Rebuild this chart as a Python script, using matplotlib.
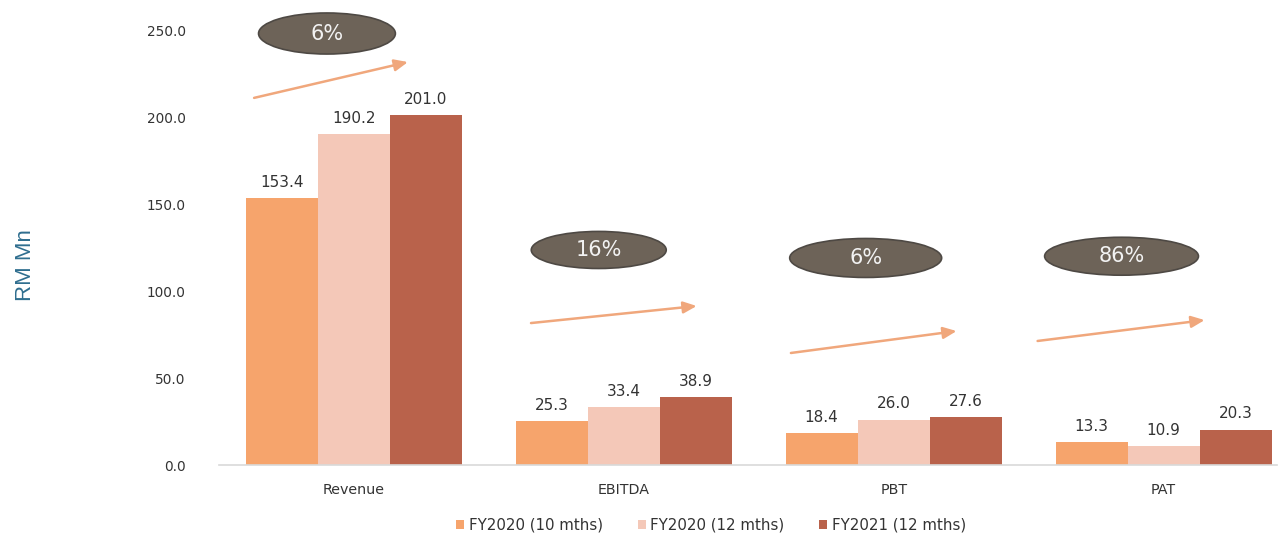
import matplotlib
matplotlib.use("Agg")
import matplotlib.pyplot as plt
from matplotlib.patches import Ellipse, Patch
import numpy as np

# figures in RM million
categories = ["Revenue", "EBITDA", "PBT", "PAT"]
series_names = ["FY2020 (10 mths)", "FY2020 (12 mths)", "FY2021 (12 mths)"]
fy2020_10m = [153.4, 25.3, 18.4, 13.3]
fy2020_12m = [190.2, 33.4, 26.0, 10.9]
fy2021_12m = [201.0, 38.9, 27.6, 20.3]
yticks = [0, 50, 100, 150, 200, 250]

colors = ["#F6A46C", "#F4C8B8", "#B9624B"]
text_col = "#333333"

fig = plt.figure(figsize=(12.86, 5.42), dpi=100)
ax = fig.add_axes([0.1703, 0.142, 0.8227, 0.8026])

x = np.arange(len(categories))
w = 0.267
for i, (vals, c) in enumerate(zip([fy2020_10m, fy2020_12m, fy2021_12m], colors)):
    pos = x + (i - 1) * w
    ax.bar(pos, vals, width=w, color=c, edgecolor="none", zorder=2)
    for p, v in zip(pos, vals):
        ax.annotate(f"{v:.1f}", (p, v), xytext=(0, 6), textcoords="offset points",
                    ha="center", va="bottom", fontsize=11, color=text_col)

ax.set_xlim(-0.5, 3.42)
ax.set_ylim(0, 250)
ax.set_yticks(yticks)
ax.set_yticklabels([f"{t:.1f}" for t in yticks], fontsize=9.8, color=text_col)
ax.set_xticks(x)
ax.set_xticklabels(categories, fontsize=10.3, color=text_col)
ax.tick_params(axis="y", length=0, pad=24)
ax.tick_params(axis="x", length=0, pad=13)
for s in ["top", "right", "left"]:
    ax.spines[s].set_visible(False)
ax.spines["bottom"].set_color("#D9D9D9")
ax.spines["bottom"].set_linewidth(1.2)

fig.text(0.02, 0.511, "RM Mn", rotation=90, ha="center", va="center",
         fontsize=16, color="#2F6E8F", family="Liberation Sans")

# year-on-year growth, FY2021 vs FY2020 (12 mths)
growth = [f"{(b / a - 1) * 100:.0f}%" for a, b in zip(fy2020_12m, fy2021_12m)]
bubble_xy = [(-0.10, 248), (0.907, 123.6), (1.896, 119), (2.844, 120)]
bubble_wh = [(0.507, 23.6), (0.50, 21.3), (0.563, 22.4), (0.57, 21.8)]
arrows = [((-0.37, 211), (0.20, 231.6)),
          ((0.656, 81.6), (1.27, 91.4)),
          ((1.619, 64.4), (2.233, 77)),
          ((2.533, 71.3), (3.152, 83.3))]

for lbl, (cx, cy), (ew, eh), (a0, a1) in zip(growth, bubble_xy, bubble_wh, arrows):
    ax.add_patch(Ellipse((cx, cy), ew, eh, facecolor="#6D6358", edgecolor="#4E4944",
                         linewidth=1.2, clip_on=False, zorder=3))
    ax.text(cx, cy, lbl, ha="center", va="center", fontsize=15, color="#F2F2F2",
            zorder=4, clip_on=False)
    ax.annotate("", xy=a1, xytext=a0,
                arrowprops=dict(arrowstyle="-|>,head_length=0.8,head_width=0.35",
                                color="#F0A77C", lw=1.8, shrinkA=0, shrinkB=0),
                annotation_clip=False)

handles = [Patch(facecolor=c, edgecolor="none") for c in colors]
fig.legend(handles, series_names, loc="center", bbox_to_anchor=(0.553, 0.031),
           ncol=3, frameon=False, fontsize=10.8, handlelength=0.55, handleheight=0.6,
           handletextpad=0.3, columnspacing=2.3, labelcolor=text_col)

fig.savefig("out.png", dpi=100)
